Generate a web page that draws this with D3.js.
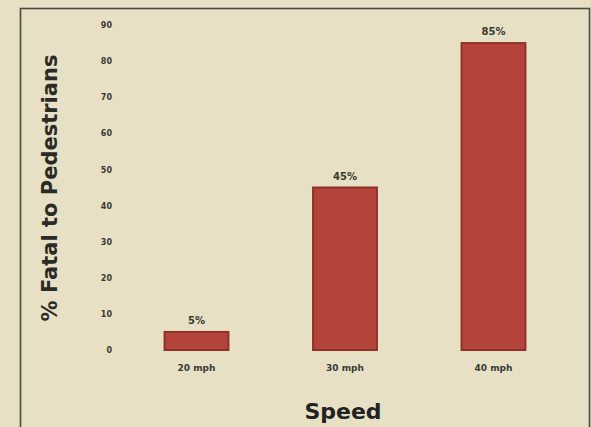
<!DOCTYPE html>
<html><head><meta charset="utf-8">
<script src="https://cdn.jsdelivr.net/npm/d3@7"></script>
<style>html,body{margin:0;padding:0;background:#e7e0c4;}svg{display:block;}</style>
</head><body>
<svg id="c" width="591" height="427"></svg>
<script>
const categories = ["20 mph", "30 mph", "40 mph"];
const values = [5, 45, 85];
const valueLabels = ["5%", "45%", "85%"];
const yTicks = [0, 10, 20, 30, 40, 50, 60, 70, 80, 90];

const svg = d3.select("#c");
const W = 591, H = 427;
svg.append("rect").attr("width", W).attr("height", H).attr("fill", "#e7e0c4");
// frame
svg.append("rect").attr("x", 20.5).attr("y", 8.5).attr("width", 569).attr("height", 440)
  .attr("fill", "none").attr("stroke", "#4a4a44").attr("stroke-width", 1.6);

const y = d3.scaleLinear().domain([0, 90]).range([350, 25]);
const x = d3.scaleBand().domain(categories).range([123, 567]).paddingInner(0.57).paddingOuter(0.28);

const yAxis = d3.axisLeft(y).tickValues(yTicks).tickSize(0).tickPadding(0);
const gy = svg.append("g").attr("transform", "translate(112,0)").call(yAxis);
gy.select(".domain").remove();
gy.selectAll("text").attr("font-family", "DejaVu Sans, sans-serif").attr("font-size", 8)
  .attr("font-weight", "bold").attr("fill", "#3a3a34");

const bars = svg.append("g");
bars.selectAll("rect").data(values).join("rect")
  .attr("x", (d, i) => x(categories[i]))
  .attr("y", d => y(d))
  .attr("width", x.bandwidth())
  .attr("height", d => y(0) - y(d))
  .attr("fill", "#b4443b").attr("stroke", "#8f3029").attr("stroke-width", 2);

svg.append("g").selectAll("text").data(values).join("text")
  .attr("x", (d, i) => x(categories[i]) + x.bandwidth() / 2)
  .attr("y", d => y(d) - 8)
  .attr("text-anchor", "middle")
  .attr("font-family", "DejaVu Sans, sans-serif").attr("font-size", 10).attr("font-weight", "bold")
  .attr("fill", "#3a3a30")
  .text((d, i) => valueLabels[i]);

const xAxis = d3.axisBottom(x).tickSize(0).tickPadding(0);
const gx = svg.append("g").attr("transform", "translate(0,365)").call(xAxis);
gx.select(".domain").remove();
gx.selectAll("text").attr("font-family", "DejaVu Sans, sans-serif").attr("font-size", 9)
  .attr("font-weight", "bold").attr("fill", "#3a3a34");

svg.append("text").attr("x", 343).attr("y", 419).attr("text-anchor", "middle")
  .attr("font-family", "DejaVu Sans, sans-serif").attr("font-size", 22).attr("font-weight", "bold")
  .attr("fill", "#222").text("Speed");

svg.append("text").attr("transform", "translate(57,188) rotate(-90)").attr("text-anchor", "middle")
  .attr("font-family", "DejaVu Sans, sans-serif").attr("font-size", 21).attr("font-weight", "bold")
  .attr("fill", "#2a2a26").text("% Fatal to Pedestrians");
</script>
</body></html>
